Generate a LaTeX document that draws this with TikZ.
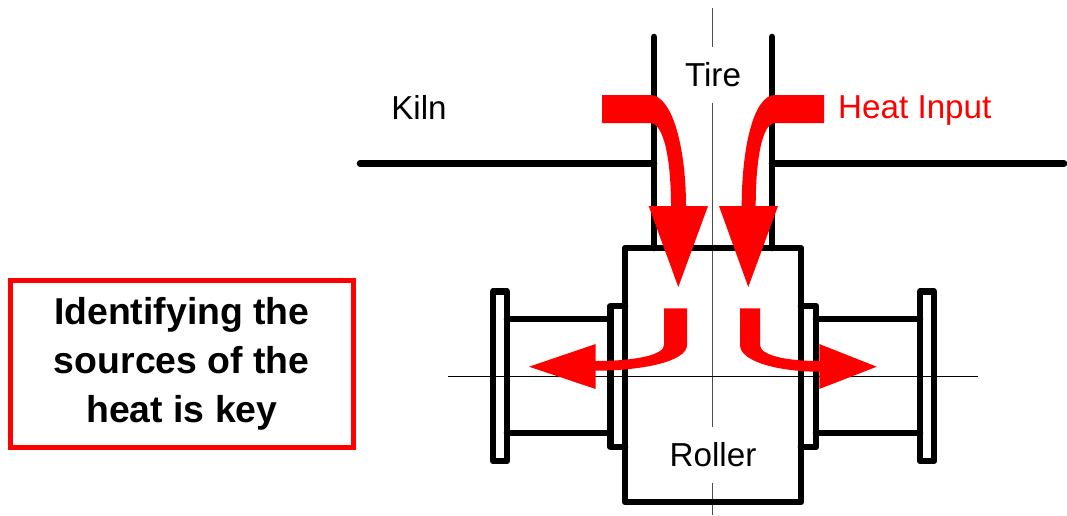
\documentclass[tikz,border=0pt]{standalone}
\usepackage{fontspec}
\setmainfont{Liberation Sans}
\usetikzlibrary{positioning}
\begin{document}
\begin{tikzpicture}[
  x=1pt, y=-1pt,
  wall/.style={draw=black, line width=6.6pt, line cap=round, line join=round},
  axis/.style={draw=black!70, line width=1pt},
  heat/.style={fill=red, draw=none},
  label/.style={font=\fontsize{33.2}{39}\selectfont, inner sep=0pt},
  gaplabel/.style={label, fill=white, minimum height=56pt},
  keybox/.style={draw=red, line width=5pt, fill=white, align=center, inner sep=0pt,
    minimum width=343.5pt, minimum height=167.3pt,
    font=\fontsize{37.4}{49}\bfseries\selectfont}
]
  \useasboundingbox (0,0) rectangle (1067,515);

  % centre lines
  \draw[axis] (712.7,8) -- (712.7,515);
  \draw[axis, black] (448,376) -- (978,376);

  % kiln and tire
  \draw[wall] (360,163.5) -- (654,163.5);
  \draw[wall] (772,163.5) -- (1064,163.5);
  \draw[wall] (654,37) -- (654,248);
  \draw[wall] (772,37) -- (772,248);

  % roller
  \draw[wall] (625,248) rectangle (801,502);
  \draw[wall] (493,291.5) rectangle (507,461);
  \draw[wall] (625,306) -- (610.5,306) -- (610.5,447) -- (625,447);
  \draw[wall] (507,319) -- (610.5,319);
  \draw[wall] (507,433) -- (610.5,433);
  \draw[wall] (920,291.5) rectangle (934,461);
  \draw[wall] (801,306) -- (816,306) -- (816,447) -- (801,447);
  \draw[wall] (816,319) -- (920,319);
  \draw[wall] (816,433) -- (920,433);

  % heat arrows
  \fill[heat] (602,95) -- (650,95) .. controls (673,95) and (686,150) .. (686,206)
    -- (708,206) -- (678.3,287) -- (648.7,206) -- (671,206)
    .. controls (671,160) and (664,123) .. (650,123) -- (602,123) -- cycle;
  \fill[heat] (824,95) -- (775,95) .. controls (753,95) and (741.7,150) .. (741.7,206)
    -- (719,206) -- (748.3,287) -- (778,206) -- (755.7,206)
    .. controls (755.7,160) and (762,123) .. (775,123) -- (824,123) -- cycle;
  \fill[heat] (664,308.3) -- (687,308.3) -- (687,345)
    .. controls (687,362) and (640,370.7) .. (595.7,370.7)
    -- (595.7,389) -- (529,366.7) -- (595.7,344) -- (595.7,361)
    .. controls (635,361) and (664,355) .. (664,345) -- cycle;
  \fill[heat] (740,308.3) -- (760,308.3) -- (760,345)
    .. controls (760,355) and (785,361) .. (819.3,361)
    -- (819.3,344) -- (876.7,366.7) -- (819.3,389) -- (819.3,371.7)
    .. controls (780,371.7) and (740,362) .. (740,345) -- cycle;

  % labels
  \node[gaplabel] (tire) at (713,75) {Tire};
  \node[gaplabel] (roller) at (713,455) {Roller};
  \node[label] (kiln) at (419,107.5) {Kiln};
  \node[label, red, anchor=west] (input) at (838,110.5) {Heat Input};
  \node[keybox] (key) at (181.8,364.3) {\raisebox{-1.5pt}{Identifying the}\\\raisebox{-1.5pt}{sources of the}\\\raisebox{-1.5pt}{heat is key}};
\end{tikzpicture}
\end{document}
